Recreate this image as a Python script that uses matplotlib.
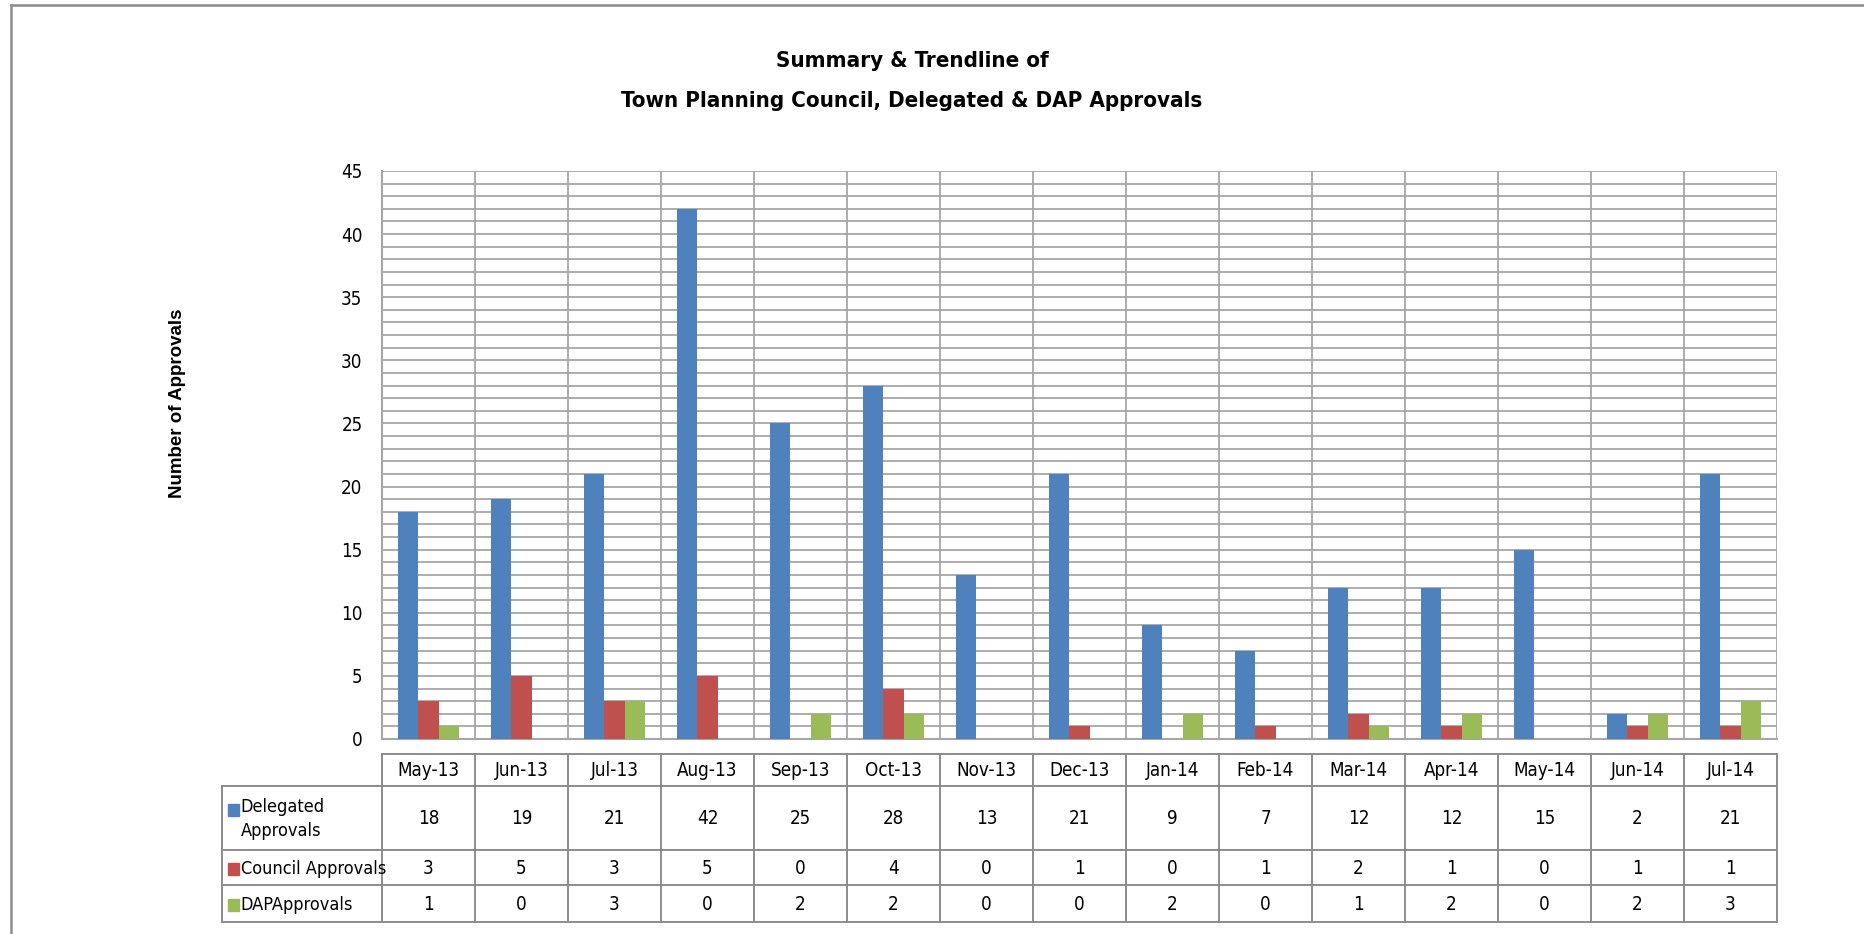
import matplotlib
matplotlib.use("Agg")
import matplotlib.pyplot as plt
from matplotlib.lines import Line2D
from matplotlib.patches import Rectangle

months = ["May-13", "Jun-13", "Jul-13", "Aug-13", "Sep-13", "Oct-13", "Nov-13", "Dec-13",
          "Jan-14", "Feb-14", "Mar-14", "Apr-14", "May-14", "Jun-14", "Jul-14"]
delegated = [18, 19, 21, 42, 25, 28, 13, 21, 9, 7, 12, 12, 15, 2, 21]
council = [3, 5, 3, 5, 0, 4, 0, 1, 0, 1, 2, 1, 0, 1, 1]
dap = [1, 0, 3, 0, 2, 2, 0, 0, 2, 0, 1, 2, 0, 2, 3]

series_names = ["Delegated\nApprovals", "Council Approvals", "DAPApprovals"]
series_vals = [delegated, council, dap]
colors = ["#4F81BD", "#C0504D", "#9BBB59"]

narrow = dict(family="DejaVu Sans", stretch="condensed")
grid_c = "#A6A6A6"
W, H = 1865, 934

fig = plt.figure(figsize=(W / 100, H / 100), dpi=100)

# chart area border (top + left only visible)
fig.add_artist(Line2D([11 / W, 1], [1 - 4.5 / H, 1 - 4.5 / H], color="#8C8C8C", lw=1.8))
fig.add_artist(Line2D([11 / W, 11 / W], [0, 1 - 4.5 / H], color="#8C8C8C", lw=1.8))

fig.text(912 / W, 1 - 61 / H, "Summary & Trendline of", ha="center", va="center",
         fontsize=16, fontweight="bold", **narrow)
fig.text(912 / W, 1 - 101 / H, "Town Planning Council, Delegated & DAP Approvals", ha="center",
         va="center", fontsize=16, fontweight="bold", **narrow)

# main plot
left, right, top, bottom = 382, 1777, 171, 739
ax = fig.add_axes([left / W, 1 - bottom / H, (right - left) / W, (bottom - top) / H])
n = len(months)
x = list(range(n))
bw = 0.22
for k, (vals, c) in enumerate(zip(series_vals, colors)):
    ax.bar([i + (k - 1) * bw for i in x], vals, width=bw, color=c, zorder=3)

ax.set_xlim(-0.5, n - 0.5)
ax.set_ylim(0, 45)
ax.set_yticks(range(0, 46, 5))
ax.set_yticks(range(0, 46), minor=True)
ax.set_xticks([i + 0.5 for i in range(n)])
ax.set_xticklabels([])
ax.tick_params(axis="both", which="both", length=0)
ax.tick_params(axis="y", labelsize=13.5, pad=14)
for lab in ax.get_yticklabels():
    lab.set_family(narrow["family"])
    lab.set_stretch(narrow["stretch"])
ax.grid(True, axis="y", which="both", color=grid_c, lw=1.3, zorder=1)
ax.grid(True, axis="x", which="major", color=grid_c, lw=1.3, zorder=1)
for s in ["top", "right"]:
    ax.spines[s].set_visible(False)
ax.spines["left"].set_color(grid_c)
ax.spines["bottom"].set_color(grid_c)
ax.spines["left"].set_linewidth(1.5)
ax.spines["bottom"].set_linewidth(1.5)

fig.text(178 / W, 1 - 403 / H, "Number of Approvals", rotation=90, ha="center", va="center",
         fontsize=13.5, fontweight="bold", family="Liberation Sans")

# data table below
tab_left, tab_top, tab_bot = 222, 754, 922
tax = fig.add_axes([tab_left / W, 1 - tab_bot / H, (right - tab_left) / W, (tab_bot - tab_top) / H])
leg_w = (left - tab_left) / ((right - left) / n)
tax.set_xlim(-0.5 - leg_w, n - 0.5)
row_edges = [0, 32, 96, 131, 168]  # pixel offsets from table top
tax.set_ylim(row_edges[-1], 0)
tax.axis("off")
lc = "#8C8C8C"
lw = 1.4
# horizontal lines
tax.plot([-0.5, n - 0.5], [row_edges[0]] * 2, color=lc, lw=lw, clip_on=False)
for ry in row_edges[1:]:
    tax.plot([-0.5 - leg_w, n - 0.5], [ry, ry], color=lc, lw=lw, clip_on=False)
# vertical lines
for i in range(n + 1):
    tax.plot([i - 0.5, i - 0.5], [row_edges[0], row_edges[-1]], color=lc, lw=lw, clip_on=False)
tax.plot([-0.5 - leg_w] * 2, [row_edges[1], row_edges[-1]], color=lc, lw=lw, clip_on=False)

for i, m in enumerate(months):
    tax.text(i, (row_edges[0] + row_edges[1]) / 2 + 1, m, ha="center", va="center",
             fontsize=13.5, **narrow)
for r, (name, vals, c) in enumerate(zip(series_names, series_vals, colors)):
    yc = (row_edges[r + 1] + row_edges[r + 2]) / 2 + 1
    for i, v in enumerate(vals):
        tax.text(i, yc, str(v), ha="center", va="center", fontsize=13.5, **narrow)
    sq = 0.12
    tax.add_patch(Rectangle((-0.5 - leg_w + 0.06, (yc - 15 if r == 0 else yc - 6)), sq, 12,
                            color=c, clip_on=False))
    tax.text(-0.5 - leg_w + 0.2, yc, name, ha="left", va="center", fontsize=13,
             linespacing=1.45, **narrow)

fig.savefig("out.png", dpi=100)
